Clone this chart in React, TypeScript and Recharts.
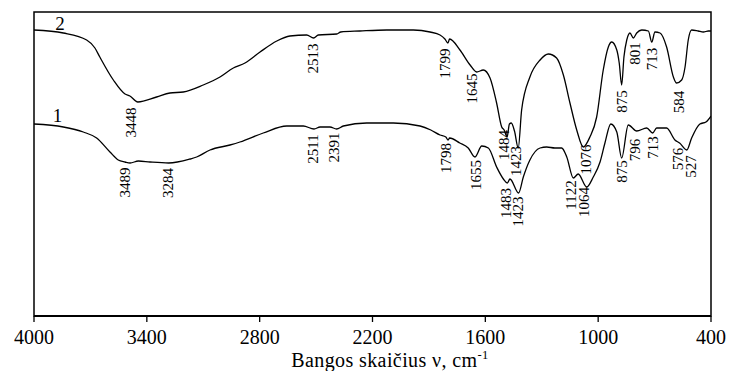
import React from 'react';
import {
  LineChart,
  Line,
  XAxis,
  YAxis,
  ReferenceArea,
  ReferenceDot,
} from 'recharts';

// wavenumbers (cm-1) and relative transmittance
const waveNumbers2 = [
  4000, 3844, 3720, 3676, 3650, 3578, 3516, 3490, 3448, 3348, 3277,
  3206, 3100, 3011, 2940, 2878, 2798, 2709, 2639, 2550, 2513, 2488, 2390, 2369,
  2267, 2124, 1983, 1894, 1841, 1815, 1799, 1790, 1735, 1681, 1646, 1611, 1575,
  1540, 1513, 1500, 1484, 1472, 1462, 1445, 1425, 1407, 1363, 1309, 1265, 1221,
  1185, 1150, 1114, 1079, 1044, 1008, 973, 946, 928, 901, 888, 875, 863, 848,
  831, 813, 795, 768, 733, 715, 698, 671, 636, 600, 583, 556, 538, 521, 503, 468,
  441, 414, 400,
];
const transmittance2 = [
  286, 283, 276, 268, 259, 236, 222, 220, 214, 219, 223,
  224, 231, 239, 248, 253, 264, 275, 280, 281, 278, 281, 282, 284,
  285, 286, 286, 284, 281, 277, 273, 277, 266, 251, 244, 246, 238,
  213, 189, 186, 179, 192, 193, 185, 168, 206, 239, 256, 262, 258,
  241, 213, 186, 169, 179, 199, 246, 269, 274, 266, 253, 231, 259, 276,
  283, 278, 283, 286, 285, 274, 284, 283, 269, 239, 233, 236, 249, 276, 286, 285,
  284, 285, 285,
];

const waveNumbers1 = [
  4000, 3844, 3738, 3667, 3596, 3552, 3516, 3489, 3445, 3383, 3284, 3170, 3135,
  3064, 2958, 2905, 2781, 2656, 2568, 2511, 2479, 2426, 2391, 2355, 2231, 2089,
  1947, 1890, 1841, 1810, 1798, 1790, 1736, 1691, 1655, 1619, 1584, 1540, 1504,
  1483, 1469, 1423, 1398, 1363, 1309, 1274, 1230, 1194, 1167, 1132, 1106, 1061,
  1026, 990, 964, 933, 901, 875, 840, 795, 742, 710, 689, 636, 592, 567, 529,
  503, 459, 427, 400,
];
const transmittance1 = [
  192, 189, 184, 178, 164, 156, 154, 153, 155, 154, 153, 157, 159,
  166, 171, 174, 183, 190, 190, 187, 189, 189, 187, 190, 193, 193,
  190, 186, 181, 179, 176, 178, 173, 168, 159, 170, 168, 149, 137,
  133, 137, 123, 139, 156, 168, 169, 168, 168, 159, 138, 142, 129,
  139, 154, 173, 192, 184, 158, 191, 185, 188, 183, 188, 188, 176, 173, 166,
  178, 192, 194, 200,
];

const xTicks = [4000, 3400, 2800, 2200, 1600, 1000, 400];

// band labels: text, wavenumber and level where the label sits
const bandText2 = ['3448', '2513', '1799', '1645', '1484', '1423', '1076', '875', '801', '713', '584'];
const bandWn2 = [3484, 2518, 1812, 1669, 1501, 1437, 1065, 875, 804, 714, 570];
const bandLevel2 = [193.5, 257.5, 252.5, 227.5, 171, 155, 156.5, 214.5, 262.5, 257, 214];

const bandText1 = ['3489', '3284', '2511', '2391', '1798', '1655', '1483', '1423', '1122', '1064', '875', '796', '713', '576', '527'];
const bandWn1 = [3516, 3287, 2518, 2405, 1811, 1651, 1491, 1425, 1146, 1074, 871, 804, 707, 578, 507];
const bandLevel1 = [133.5, 133, 167, 168.5, 158, 141, 113, 104.5, 121, 114, 144.5, 166, 168.5, 157, 149.5];

const curveNames = ['1', '2'];
const curveNameWn = [3875, 3862];
const curveNameLevel = [201, 293];

const FONT = 'Liberation Serif';

const zip = (xs: number[], ys: number[]) => xs.map((wn, i) => ({ wn, t: ys[i] }));
const spectrum1 = zip(waveNumbers1, transmittance1);
const spectrum2 = zip(waveNumbers2, transmittance2);

const bands = [
  ...bandText2.map((text, i) => ({ text, wn: bandWn2[i], level: bandLevel2[i] })),
  ...bandText1.map((text, i) => ({ text, wn: bandWn1[i], level: bandLevel1[i] })),
];

const vertText = (text: string) => (p: any) => (
  <text
    x={p.cx}
    y={p.cy}
    transform={`rotate(-90 ${p.cx} ${p.cy})`}
    textAnchor="middle"
    dominantBaseline="central"
    fontSize={15}
    style={{ fontFamily: FONT }}
    fill="#000"
  >
    {text}
  </text>
);

const plainText = (text: string) => (p: any) => (
  <text
    x={p.cx}
    y={p.cy}
    textAnchor="middle"
    dominantBaseline="central"
    fontSize={19}
    style={{ fontFamily: FONT }}
    fill="#000"
  >
    {text}
  </text>
);

const WnTick = (p: any) => (
  <text x={p.x} y={p.y} dy={12} textAnchor="middle" fontSize={20} style={{ fontFamily: FONT }} fill="#000">
    {p.payload.value}
  </text>
);

const AxisTitle = (p: any) => {
  const vb = p.viewBox || { x: 34, y: 316 };
  return (
    <text
      x={vb.x + 356}
      y={vb.y + 50.5}
      textAnchor="middle"
      fontSize={20}
      letterSpacing={0.4}
      style={{ fontFamily: FONT }}
      fill="#000"
    >
      Bangos skaičius ν, cm
      <tspan dy={-8} fontSize={12.5}>-1</tspan>
    </text>
  );
};

export default function App() {
  return (
    <div style={{ position: 'absolute', left: 0, top: 0, width: 729, height: 371, background: '#fff', fontFamily: FONT }}>
      <LineChart
        width={729}
        height={371}
        margin={{ top: 12, right: 18, left: 34, bottom: 0 }}
      >
        <XAxis
          dataKey="wn"
          type="number"
          domain={[400, 4000]}
          reversed
          ticks={xTicks}
          interval={0}
          allowDataOverflow
          height={55}
          tickSize={6}
          tickMargin={10}
          tick={WnTick}
          tickLine={{ stroke: '#000', strokeWidth: 1.3 }}
          axisLine={{ stroke: '#000', strokeWidth: 1.8 }}
          label={{ content: AxisTitle }}
        />
        <YAxis type="number" domain={[0, 304]} hide allowDataOverflow />
        <ReferenceArea
          x1={4000}
          x2={400}
          y1={0}
          y2={304}
          fill="none"
          stroke="#000"
          strokeWidth={1.5}
          fillOpacity={0}
        />
        <Line
          data={spectrum2}
          dataKey="t"
          type="monotone"
          stroke="#000"
          strokeWidth={1.3}
          dot={false}
          isAnimationActive={false}
        />
        <Line
          data={spectrum1}
          dataKey="t"
          type="monotone"
          stroke="#000"
          strokeWidth={1.3}
          dot={false}
          isAnimationActive={false}
        />
        {bands.map((b, i) => (
          <ReferenceDot
            key={'b' + i}
            x={b.wn}
            y={b.level}
            r={0}
            ifOverflow="visible"
            shape={vertText(b.text)}
          />
        ))}
        {curveNames.map((n, i) => (
          <ReferenceDot
            key={'c' + i}
            x={curveNameWn[i]}
            y={curveNameLevel[i]}
            r={0}
            ifOverflow="visible"
            shape={plainText(n)}
          />
        ))}
      </LineChart>
    </div>
  );
}
